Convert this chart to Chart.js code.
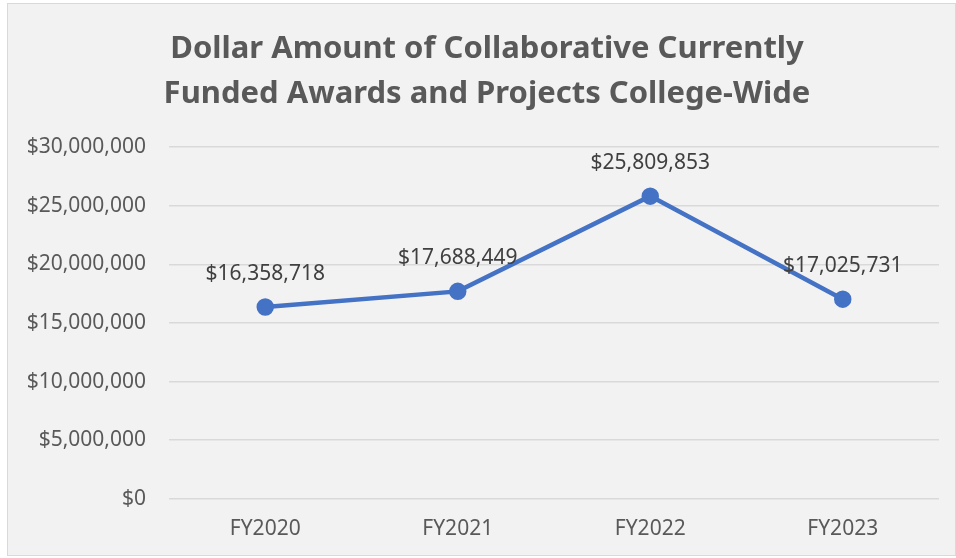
<!DOCTYPE html>
<html>
<head>
<meta charset="utf-8">
<script src="https://cdn.jsdelivr.net/npm/chart.js@4"></script>
<style>
  html, body { margin: 0; padding: 0; background: #fff; }
  #box {
    position: absolute; left: 7px; top: 3px;
    width: 949px; height: 553px;
    border: 1px solid #d9d9d9; box-sizing: border-box;
    background: #f2f2f2;
  }
</style>
</head>
<body>
<div id="box"><canvas id="myChart"></canvas></div>
<script>
// datos del gráfico
const years = ['FY2020', 'FY2021', 'FY2022', 'FY2023'];
const amounts = [16358718, 17688449, 25809853, 17025731];
const yTicks = [0, 5000000, 10000000, 15000000, 20000000, 25000000, 30000000];
const titleLines = ['Dollar Amount of Collaborative Currently', 'Funded Awards and Projects College-Wide'];

const money = (v) => '$' + v.toLocaleString('en-US');
const fontName = '"Noto Sans", "Open Sans", sans-serif';

// título centrado como en Excel y etiquetas encima de cada punto
const extras = {
  id: 'extras',
  afterDatasetsDraw(chart) {
    const c = chart.ctx;
    c.save();
    c.textAlign = 'center';
    c.textBaseline = 'middle';

    c.font = 'bold 31px ' + fontName;
    c.fillStyle = '#595959';
    titleLines.forEach((t, i) => c.fillText(t, 479, 45 + i * 45));

    c.font = '21px ' + fontName;
    c.fillStyle = '#404040';
    chart.getDatasetMeta(0).data.forEach((pt, i) => {
      c.fillText(money(amounts[i]), pt.x, pt.y - 33);
    });
    c.restore();
  }
};

const ctx = document.getElementById('myChart');
new Chart(ctx, {
  type: 'line',
  data: {
    labels: years,
    datasets: [{
      data: amounts,
      borderColor: '#4472c4',
      backgroundColor: '#4472c4',
      borderWidth: 4.5,
      pointRadius: 6.5,
      pointHoverRadius: 6.5,
      tension: 0
    }]
  },
  options: {
    responsive: true,
    maintainAspectRatio: false,
    animation: false,
    layout: { padding: { left: 0, right: 16, top: 143, bottom: 3 } },
    plugins: {
      legend: { display: false },
      tooltip: { enabled: false },
      title: { display: false }
    },
    scales: {
      x: {
        offset: true,
        grid: { display: false },
        border: { display: false },
        ticks: { color: '#595959', font: { family: fontName, size: 21 }, padding: 10 }
      },
      y: {
        min: 0,
        max: 30000000,
        afterBuildTicks: (axis) => { axis.ticks = yTicks.map(v => ({ value: v })); },
        afterFit: (axis) => { axis.width = 161; },
        grid: { color: '#d9d9d9', lineWidth: 1.5, drawTicks: false },
        border: { display: false },
        ticks: {
          color: '#595959',
          font: { family: fontName, size: 21 },
          padding: 23,
          callback: (v) => money(v)
        }
      }
    }
  },
  plugins: [extras]
});
</script>
</body>
</html>
